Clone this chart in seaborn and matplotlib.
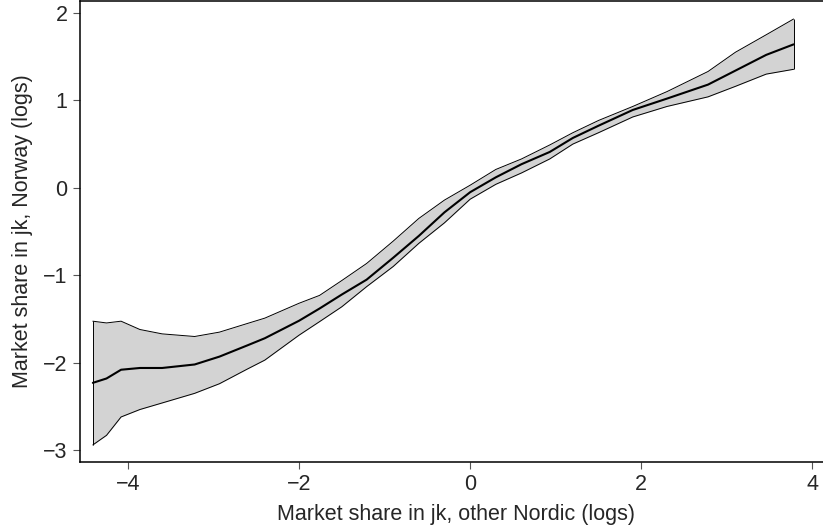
import matplotlib
matplotlib.use("Agg")
import matplotlib.pyplot as plt
import seaborn as sns
import pandas as pd

share_other = [-4.41, -4.25, -4.08, -3.86, -3.60, -3.22, -2.93, -2.60, -2.40, -2.00,
               -1.76, -1.50, -1.21, -0.90, -0.60, -0.30, 0.00, 0.30, 0.60, 0.93,
               1.20, 1.50, 1.90, 2.30, 2.78, 3.10, 3.46, 3.78]
fit = [-2.23, -2.18, -2.08, -2.06, -2.06, -2.02, -1.93, -1.80, -1.72, -1.52,
       -1.38, -1.22, -1.05, -0.80, -0.55, -0.28, -0.05, 0.12, 0.27, 0.41,
       0.57, 0.71, 0.89, 1.02, 1.18, 1.34, 1.52, 1.64]
upper = [-1.525, -1.545, -1.525, -1.62, -1.67, -1.70, -1.65, -1.55, -1.49, -1.32,
         -1.23, -1.06, -0.865, -0.61, -0.35, -0.14, 0.03, 0.21, 0.33, 0.49,
         0.63, 0.77, 0.93, 1.10, 1.33, 1.55, 1.75, 1.93]
lower = [-2.94, -2.83, -2.62, -2.535, -2.46, -2.35, -2.24, -2.07, -1.97, -1.685,
         -1.53, -1.36, -1.13, -0.90, -0.635, -0.40, -0.13, 0.04, 0.17, 0.33,
         0.50, 0.63, 0.81, 0.93, 1.04, 1.16, 1.30, 1.355]

x_ticks = [-4, -2, 0, 2, 4]
y_ticks = [-3, -2, -1, 0, 1, 2]

df = pd.DataFrame({"x": share_other, "fit": fit, "upper": upper, "lower": lower})

sns.set_style("ticks")
plt.rcParams["font.family"] = ["Liberation Sans", "DejaVu Sans"]

fig = plt.figure(figsize=(8.23, 5.29), dpi=100)
ax = fig.add_axes([80 / 823, 1 - 462 / 529, 1 - 80 / 823 + 0.01, (462 - 1) / 529])

ax.fill_between(df["x"], df["lower"], df["upper"], color="#d3d3d3", linewidth=0)
sns.lineplot(data=df, x="x", y="upper", ax=ax, color="black", linewidth=0.7)
sns.lineplot(data=df, x="x", y="lower", ax=ax, color="black", linewidth=0.7)
sns.lineplot(data=df, x="x", y="fit", ax=ax, color="black", linewidth=1.5)
# vertical ends of the band
ax.vlines([df["x"].iloc[0], df["x"].iloc[-1]],
          [df["lower"].iloc[0], df["lower"].iloc[-1]],
          [df["upper"].iloc[0], df["upper"].iloc[-1]], color="black", linewidth=0.7)

ax.set_xlim(-4.56, 4.22)
ax.set_ylim(-3.135, 2.136)
ax.set_xticks(x_ticks)
ax.set_yticks(y_ticks)
ax.set_xlabel("Market share in jk, other Nordic (logs)", fontsize=15.5, labelpad=6)
ax.set_ylabel("Market share in jk, Norway (logs)", fontsize=15.5, labelpad=7)
ax.tick_params(labelsize=15.5, length=5, width=0.8, color="#555555", pad=4)
for side in ["left", "bottom", "top"]:
    ax.spines[side].set_linewidth(1.1)
    ax.spines[side].set_color("black")
ax.spines["right"].set_visible(False)

fig.savefig("out.png", dpi=100)
